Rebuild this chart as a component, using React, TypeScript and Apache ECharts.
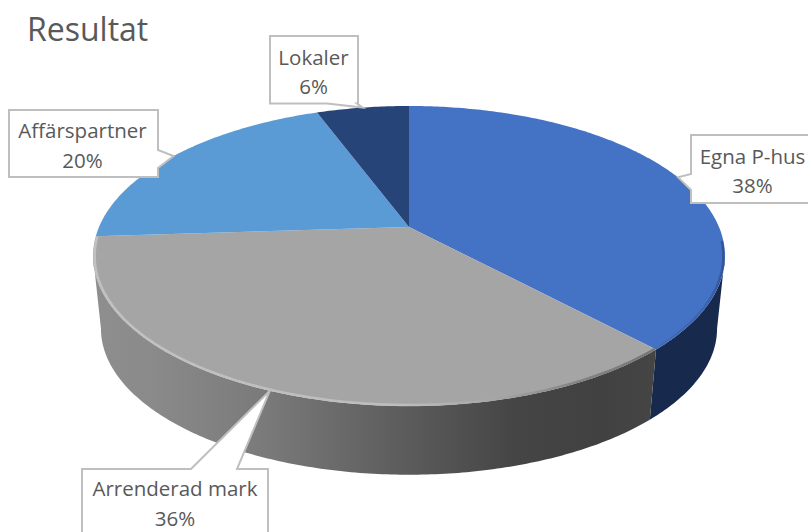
import React, { useEffect, useRef } from "react";
import * as echarts from "echarts";

const titleText = "Resultat";
const categories = ["Egna P-hus", "Arrenderad mark", "Affärspartner", "Lokaler"];
const shares = [38, 36, 20.3, 5.7];
const topColors = ["#4472c4", "#a5a5a5", "#5b9bd5", "#264478"];

// Perspective of the disc: the hub sits above the centre of the projected ellipse.
const HUB_X = 409;
const HUB_Y = 227;
const SCALE_X = 310;
const SCALE_Y = 144.4;
const TILT = 0.1933;
const ELLIPSE_CY = 256;
const FLOOR_CY = 328.5;
const FLOOR_SCALE = 0.975;
const FONT = "'Open Sans', sans-serif";
const TEXT_COLOR = "#595959";
const BORDER = "#bfbfbf";

const sideFills: any[] = [
  "#17294d",
  {
    type: "linear", x: 97, y: 0, x2: 655, y2: 0, global: true,
    colorStops: [
      { offset: 0, color: "#8e8e8e" },
      { offset: 0.1, color: "#8a8a8a" },
      { offset: 0.3, color: "#7a7a7a" },
      { offset: 0.55, color: "#5c5c5c" },
      { offset: 0.75, color: "#454545" },
      { offset: 0.9, color: "#414141" },
      { offset: 1, color: "#454545" },
    ],
  },
  "#4a7cb0",
  "#1c335a",
];

const rimStrokes: any[] = [
  {
    type: "linear", x: 655, y: 0, x2: 726, y2: 0, global: true,
    colorStops: [
      { offset: 0, color: "rgba(45,80,145,0.15)" },
      { offset: 0.7, color: "rgba(52,89,159,0.6)" },
      { offset: 1, color: "rgba(42,74,133,0.85)" },
    ],
  },
  {
    type: "linear", x: 93, y: 0, x2: 655, y2: 0, global: true,
    colorStops: [
      { offset: 0, color: "#c4c4c4" },
      { offset: 0.55, color: "#c0c0c0" },
      { offset: 0.72, color: "#a5a5a5" },
      { offset: 0.86, color: "#808080" },
      { offset: 1, color: "#707070" },
    ],
  },
  null,
  null,
];

// Callout boxes: rectangle, the edge carrying the pointer, and the pointer's base on it.
const calloutBoxes = [
  { x0: 691, y0: 135, x1: 814, y1: 203, edge: "left", a: 174, b: 190, cx: 752.5, ly: [156, 185] },
  { x0: 82, y0: 469, x1: 268, y1: 540, edge: "top", a: 191, b: 237, cx: 175, ly: [488, 518] },
  { x0: 9, y0: 110, x1: 158, y1: 177, edge: "right", a: 150, b: 168, cx: 82.5, ly: [130, 160] },
  { x0: 270, y0: 36, x1: 358, y1: 103.5, edge: "bottom", a: 327, b: 357, cx: 313.5, ly: [57, 85.5] },
];

const total = shares.reduce((s, v) => s + v, 0);
const angleAt = (share: number) => (share / total) * Math.PI * 2;
const startShare = (i: number) => shares.slice(0, i).reduce((s, v) => s + v, 0);

function project(t: number): [number, number] {
  const u = Math.sin(t);
  const v = -Math.cos(t);
  const w = 1 - TILT * v;
  return [HUB_X + (SCALE_X * u) / w, HUB_Y + (SCALE_Y * v) / w];
}
function floor(t: number): [number, number] {
  const [x, y] = project(t);
  return [HUB_X + (x - HUB_X) * FLOOR_SCALE, FLOOR_CY + (y - ELLIPSE_CY) * FLOOR_SCALE];
}
function arc(a: number, b: number, fn: (t: number) => [number, number]) {
  const n = Math.max(2, Math.ceil(Math.abs(b - a) / 0.012));
  const pts: [number, number][] = [];
  for (let i = 0; i <= n; i++) pts.push(fn(a + ((b - a) * i) / n));
  return pts;
}

// Front of the wall: between the two silhouette points of the ellipse.
const FRONT_START = Math.PI - Math.acos(TILT);
const FRONT_END = Math.PI + Math.acos(TILT);

const renderSide = (params: any) => {
  const i = params.dataIndex;
  const a = Math.max(angleAt(startShare(i)), FRONT_START);
  const b = Math.min(angleAt(startShare(i) + shares[i]), FRONT_END);
  if (b <= a) return { type: "group", children: [] };
  const pts = [...arc(a, b, project), ...arc(b, a, floor)];
  return { type: "polygon", shape: { points: pts }, style: { fill: sideFills[i] } };
};

const renderTop = (params: any) => {
  const i = params.dataIndex;
  const a = angleAt(startShare(i));
  const b = angleAt(startShare(i) + shares[i]);
  const edge = arc(a, b, project);
  const children: any[] = [
    {
      type: "polygon",
      shape: { points: [[HUB_X, HUB_Y], ...edge] },
      style: { fill: topColors[i] },
    },
  ];
  if (rimStrokes[i]) {
    const from = Math.max(a, FRONT_START - 0.1);
    const inset = (t: number): [number, number] => {
      const [x, y] = project(t);
      return [HUB_X + (x - HUB_X) * 0.995, ELLIPSE_CY + (y - ELLIPSE_CY) * 0.993];
    };
    children.push({
      type: "polyline",
      shape: { points: arc(from, b, inset) },
      style: { fill: "none", stroke: rimStrokes[i], lineWidth: 2.5, opacity: 0.9 },
    });
  }
  return { type: "group", children };
};

const renderCallout = (params: any) => {
  const i = params.dataIndex;
  const box = calloutBoxes[i];
  const tip = project(angleAt(startShare(i) + shares[i] / 2));
  const { x0, y0, x1, y1, edge, a, b } = box;
  const pts: number[][] = [[x0, y0]];
  if (edge === "top") pts.push([a, y0], tip, [b, y0]);
  pts.push([x1, y0]);
  if (edge === "right") pts.push([x1, a], tip, [x1, b]);
  pts.push([x1, y1]);
  if (edge === "bottom") pts.push([b, y1], tip, [a, y1]);
  pts.push([x0, y1]);
  if (edge === "left") pts.push([x0, b], tip, [x0, a]);
  const label = (text: string, y: number) => ({
    type: "text",
    style: {
      text, x: box.cx, y, align: "center", verticalAlign: "middle",
      fontSize: 20.5, fontFamily: FONT, fill: TEXT_COLOR,
    },
  });
  return {
    type: "group",
    children: [
      { type: "polygon", shape: { points: pts }, style: { fill: "#ffffff", stroke: BORDER, lineWidth: 2 } },
      label(categories[i], box.ly[0]),
      label(`${Math.round(shares[i])}%`, box.ly[1]),
    ],
  };
};

export default function App() {
  const ref = useRef<HTMLDivElement>(null);
  useEffect(() => {
    document.body.style.margin = "0";
    const chart = echarts.init(ref.current!, null, { renderer: "svg" });
    const data = categories.map((name, i) => ({ name, value: shares[i] }));
    const base = { type: "custom", coordinateSystem: "none", data, silent: true, clip: false };
    chart.setOption({
      animation: false,
      backgroundColor: "#ffffff",
      title: {
        text: titleText,
        left: 22,
        top: 7,
        textStyle: { fontFamily: FONT, fontSize: 32, fontWeight: "normal", color: TEXT_COLOR },
      },
      series: [
        { ...base, renderItem: renderSide, z: 1 },
        { ...base, renderItem: renderTop, z: 2 },
        { ...base, renderItem: renderCallout, z: 3 },
      ],
    });
    return () => chart.dispose();
  }, []);
  return <div ref={ref} style={{ width: 808, height: 532, overflow: "hidden" }} />;
}
